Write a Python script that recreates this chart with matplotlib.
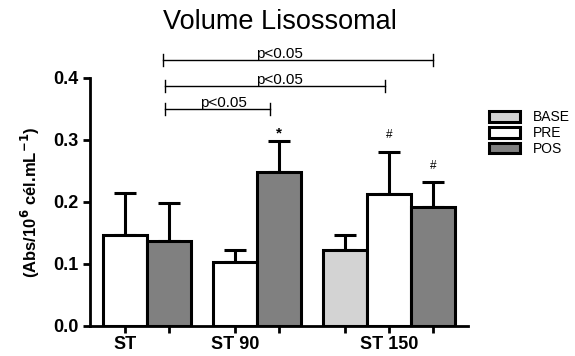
import matplotlib
matplotlib.use('Agg')
import matplotlib.pyplot as plt
from matplotlib.patches import Patch

plt.rcParams['font.family'] = ['Liberation Sans', 'DejaVu Sans']

# bar positions (one unit per bar), grouped by protocol
positions = [0, 1, 2.5, 3.5, 5, 6, 7]
conditions = ['PRE', 'POS', 'PRE', 'POS', 'BASE', 'PRE', 'POS']
means = [0.147, 0.137, 0.104, 0.248, 0.123, 0.213, 0.192]
sd_upper = [0.067, 0.061, 0.019, 0.051, 0.024, 0.068, 0.040]

group_labels = ['ST', 'ST 90', 'ST 150']
group_label_pos = [0, 2.5, 6]

# significance marks above single bars: (bar index, symbol)
marks = [(3, '*'), (5, '#'), (6, '#')]

# comparison brackets: (x start, x end, height, text x)
brackets = [(0.85, 7.0, 0.429, 3.52), (0.9, 5.9, 0.387, 3.5),
            (0.9, 3.3, 0.350, 2.23)]
bracket_text = 'p<0.05'

colors = {'BASE': '#d3d3d3', 'PRE': '#ffffff', 'POS': '#808080'}

fig = plt.figure(figsize=(5.75, 3.56), dpi=100)
ax = fig.add_axes([0.1565, 0.0843, 0.6575, 0.6967])

for x, cond, m, sd in zip(positions, conditions, means, sd_upper):
    ax.bar(x, m, width=1.0, color=colors[cond], edgecolor='black',
           linewidth=2.2, zorder=2)
    ax.errorbar(x, m, yerr=[[0], [sd]], fmt='none', ecolor='black',
                elinewidth=2.2, capsize=8, capthick=2.2, zorder=1)

for i, sym in marks:
    y = means[i] + sd_upper[i]
    if sym == '*':
        ax.text(positions[i], y + 0.001, sym, ha='center', va='bottom',
                fontsize=11, fontweight='bold')
    else:
        ax.text(positions[i], y + 0.017, sym, ha='center', va='bottom',
                fontsize=8.5)

for x0, x1, h, xt in brackets:
    ax.plot([x0, x1], [h, h], color='black', lw=1.0, clip_on=False)
    for xe in (x0, x1):
        ax.plot([xe, xe], [h - 0.01, h + 0.01], color='black', lw=1.0,
                clip_on=False)
    ax.text(xt, h - 0.001, bracket_text, ha='center', va='bottom',
            fontsize=11)

ax.set_xlim(-0.8, 7.8)
ax.set_ylim(0, 0.4)
ax.set_yticks([0.0, 0.1, 0.2, 0.3, 0.4])
ax.set_yticklabels(['0.0', '0.1', '0.2', '0.3', '0.4'])
ax.set_xticks(positions, minor=True)
ax.set_xticks(group_label_pos)
ax.set_xticklabels(group_labels)
ax.tick_params(which='both', direction='out', width=2, length=5,
               labelsize=13)
ax.tick_params(axis='x', which='major', pad=2)
for lab in ax.get_xticklabels() + ax.get_yticklabels():
    lab.set_fontweight('bold')

for side in ('top', 'right'):
    ax.spines[side].set_visible(False)
for side in ('left', 'bottom'):
    ax.spines[side].set_linewidth(2)

ax.set_ylabel(r'(Abs/10$^{\mathbf{6}}$ cél.mL$^{\mathbf{-1}}$)',
              fontsize=12, fontweight='bold', labelpad=8)

fig.text(0.487, 0.938, 'Volume Lisossomal', ha='center', va='center',
         fontsize=19.5)

handles = [Patch(facecolor=colors[k], edgecolor='black', linewidth=2.2)
           for k in ('BASE', 'PRE', 'POS')]
fig.legend(handles, ['BASE', 'PRE', 'POS'], loc='upper left',
           bbox_to_anchor=(0.851, 0.69), frameon=False, fontsize=10,
           handlelength=2.2, handleheight=0.8, labelspacing=0.12,
           handletextpad=0.9, borderpad=0, borderaxespad=0)

fig.savefig('out.png', dpi=100)
